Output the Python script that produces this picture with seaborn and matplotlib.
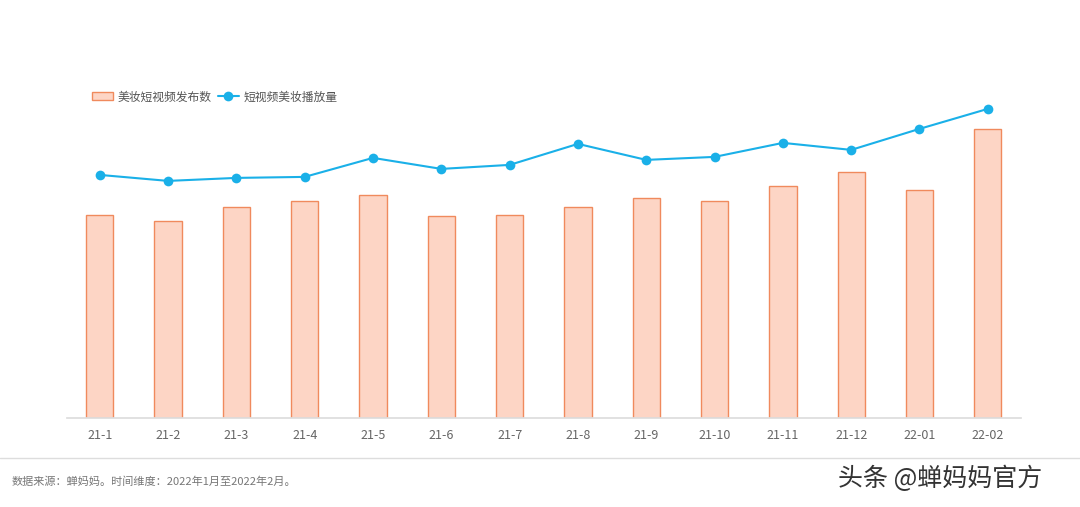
import pandas as pd
import seaborn as sns
import matplotlib.pyplot as plt

months = ["21-1", "21-2", "21-3", "21-4", "21-5", "21-6", "21-7",
          "21-8", "21-9", "21-10", "21-11", "21-12", "22-01", "22-02"]
videos = [203, 197, 211, 217, 223, 202, 203, 211, 220, 217, 232, 246, 228, 289]
plays = [243, 237, 240, 241, 260, 249, 253, 274, 258, 261, 275, 268, 289, 309]

df = pd.DataFrame({"month": months, "videos": videos, "plays": plays})

sns.set_theme(style="white")
plt.rcParams["font.family"] = ["Noto Sans CJK SC", "DejaVu Sans"]

fig = plt.figure(figsize=(10.8, 5.07), dpi=100)
ax = fig.add_axes([0.062, 0.1755, 0.883, 0.667])

sns.barplot(data=df, x="month", y="videos", ax=ax, color="#FDD5C5",
            edgecolor="#F08A5D", linewidth=1, width=0.4, saturation=1,
            label="美妆短视频发布数")
sns.lineplot(data=df, x="month", y="plays", ax=ax, color="#1AB0E8",
             marker="o", markersize=7, markeredgewidth=0, linewidth=1.5,
             label="短视频美妆播放量")

ax.set_ylim(0, 338)
ax.set_xlim(-0.48, 13.48)
ax.set_xlabel("")
ax.set_ylabel("")
ax.set_yticks([])
for s in ["top", "right", "left"]:
    ax.spines[s].set_visible(False)
ax.spines["bottom"].set_color("#dddddd")
ax.tick_params(axis="x", colors="#666666", labelsize=9, length=0, pad=8)

handles, labels = ax.get_legend_handles_labels()
order = [labels.index("美妆短视频发布数"), labels.index("短视频美妆播放量")]
ax.legend([handles[i] for i in order], [labels[i] for i in order],
          loc="upper left", bbox_to_anchor=(0.015, 1.0), ncol=2, frameon=False,
          fontsize=8.5, labelcolor="#555555", handlelength=1.8, columnspacing=0.5,
          handletextpad=0.4)

fig.add_artist(plt.Line2D([0.0, 1.0], [0.097, 0.097], color="#dddddd", linewidth=1))
fig.text(0.011, 0.05, "数据来源：蝉妈妈。时间维度：2022年1月至2022年2月。",
         fontsize=8, color="#777777", va="center")
fig.text(0.776, 0.055, "头条 @蝉妈妈官方", fontsize=18, color="#333333", va="center")

fig.savefig("out.png", dpi=100, facecolor="white")
